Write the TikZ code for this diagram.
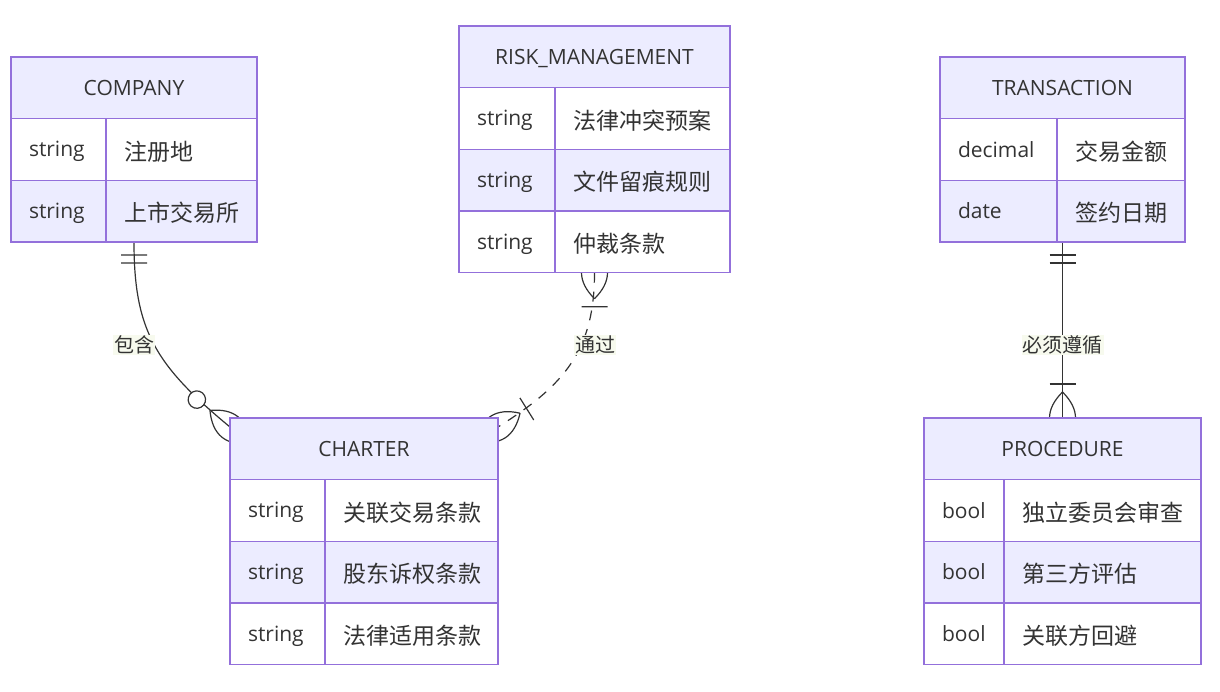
\documentclass[tikz,border=0pt]{standalone}
\usepackage{fontspec}
\setmainfont{Open Sans}
\newfontfamily\cjk{Noto Sans CJK SC}
\usetikzlibrary{calc,fit,decorations.markings}
\pgfdeclarelayer{bg}
\pgfsetlayers{bg,main}
\definecolor{bd}{HTML}{9370DB}
\definecolor{hdrc}{HTML}{ECECFF}
\definecolor{txt}{HTML}{333333}
\definecolor{lbg}{RGB}{247,250,238}
\newcommand\lt{\fontsize{21}{25}\selectfont}
\newcommand\zh{\cjk\fontsize{23}{27}\selectfont}
\newcommand\lstrut{\rule[-4.6pt]{0pt}{24.6pt}}
\newcommand\zstrut{\rule[-4.6pt]{0pt}{30.6pt}}
\tikzset{
  ehead/.style={draw=bd, line width=1.5pt, fill=hdrc, anchor=north west, inner sep=0pt, outer sep=0pt, minimum height=61.67pt, text=txt, font=\lt, execute at begin node=\lstrut},
  cell/.style={draw=bd, line width=1.5pt, anchor=north west, inner xsep=18pt, inner ysep=0pt, outer sep=0pt, minimum height=61.67pt, align=left, text=txt, font=\lt, execute at begin node=\lstrut},
  zhc/.style={execute at begin node=\zstrut},
  wrow/.style={cell, fill=white},
  lrow/.style={cell, fill=hdrc},
  efit/.style={inner sep=0pt, outer sep=0pt},
  rel/.style={draw=txt, line width=1.2pt},
  mk/.style={draw=txt, line width=1.2pt, solid},
  lbl/.style={fill=lbg, inner sep=1pt, text=txt, font=\cjk\fontsize{20}{23}\selectfont},
  oneS/.style={postaction={decorate, decoration={markings,
      mark=at position 0.01pt with {\draw[mk] (13pt,-13pt) -- (13pt,13pt) (21pt,-13pt) -- (21pt,13pt);}}}},
  manyS/.style={postaction={decorate, decoration={markings,
      mark=at position 0.01pt with {\draw[mk] (26pt,0) .. controls (8.67pt,17.33pt) and (-8.67pt,17.33pt) .. (-26pt,0) .. controls (-8.67pt,-17.33pt) and (8.67pt,-17.33pt) .. (26pt,0);
        \draw[mk] (34pt,-13pt) -- (34pt,13pt);}}}},
  manyE/.style={postaction={decorate, decoration={markings,
      mark=at position -0.01pt with {\draw[mk] (-26pt,0) .. controls (-8.67pt,17.33pt) and (8.67pt,17.33pt) .. (26pt,0) .. controls (8.67pt,-17.33pt) and (-8.67pt,-17.33pt) .. (-26pt,0);
        \draw[mk] (-34pt,-13pt) -- (-34pt,13pt);}}}},
  zmanyE/.style={postaction={decorate, decoration={markings,
      mark=at position -0.01pt with {\draw[mk] (-26pt,0) .. controls (-8.67pt,17.33pt) and (8.67pt,17.33pt) .. (26pt,0) .. controls (8.67pt,-17.33pt) and (-8.67pt,-17.33pt) .. (-26pt,0);
        \draw[mk, fill=white] (-43pt,0) circle (8.7pt);}}}},
}
\begin{document}
\begin{tikzpicture}[x=1pt,y=-1pt]
\useasboundingbox (0,0) rectangle (1220,691);
% COMPANY
\node[ehead, minimum width=246pt] (company-h) at (11,57) {COMPANY};
\node[wrow, text width=59pt] (company-1t) at (11,118.67) {string};
\node[wrow, zhc, text width=115pt] (company-1n) at (106,118.67) {\zh 注册地};
\node[lrow, text width=59pt] (company-2t) at (11,180.33) {string};
\node[lrow, zhc, text width=115pt] (company-2n) at (106,180.33) {\zh 上市交易所};
\node[efit, fit=(company-h)(company-2n)] (company) {};
% RISK_MANAGEMENT
\node[ehead, minimum width=271pt] (risk-h) at (459,26) {RISK\_MANAGEMENT};
\node[wrow, text width=60pt] (risk-1t) at (459,87.67) {string};
\node[wrow, zhc, text width=139pt] (risk-1n) at (555,87.67) {\zh 法律冲突预案};
\node[lrow, text width=60pt] (risk-2t) at (459,149.33) {string};
\node[lrow, zhc, text width=139pt] (risk-2n) at (555,149.33) {\zh 文件留痕规则};
\node[wrow, text width=60pt] (risk-3t) at (459,211) {string};
\node[wrow, zhc, text width=139pt] (risk-3n) at (555,211) {\zh 仲裁条款};
\node[efit, fit=(risk-h)(risk-3n)] (risk) {};
% TRANSACTION
\node[ehead, minimum width=245pt] (trans-h) at (940,57) {TRANSACTION};
\node[wrow, text width=81pt] (trans-1t) at (940,118.67) {decimal};
\node[wrow, zhc, text width=92pt] (trans-1n) at (1057,118.67) {\zh 交易金额};
\node[lrow, text width=81pt] (trans-2t) at (940,180.33) {date};
\node[lrow, zhc, text width=92pt] (trans-2n) at (1057,180.33) {\zh 签约日期};
\node[efit, fit=(trans-h)(trans-2n)] (transaction) {};
% CHARTER
\node[ehead, minimum width=268pt] (charter-h) at (230,418) {CHARTER};
\node[wrow, text width=59pt] (charter-1t) at (230,479.67) {string};
\node[wrow, zhc, text width=137pt] (charter-1n) at (325,479.67) {\zh 关联交易条款};
\node[lrow, text width=59pt] (charter-2t) at (230,541.33) {string};
\node[lrow, zhc, text width=137pt] (charter-2n) at (325,541.33) {\zh 股东诉权条款};
\node[wrow, text width=59pt] (charter-3t) at (230,603) {string};
\node[wrow, zhc, text width=137pt] (charter-3n) at (325,603) {\zh 法律适用条款};
\node[efit, fit=(charter-h)(charter-3n)] (charter) {};
% PROCEDURE
\node[ehead, minimum width=277pt] (proc-h) at (924,418) {PROCEDURE};
\node[wrow, text width=44pt] (proc-1t) at (924,479.67) {bool};
\node[wrow, zhc, text width=161pt] (proc-1n) at (1004,479.67) {\zh 独立委员会审查};
\node[lrow, text width=44pt] (proc-2t) at (924,541.33) {bool};
\node[lrow, zhc, text width=161pt] (proc-2n) at (1004,541.33) {\zh 第三方评估};
\node[wrow, text width=44pt] (proc-3t) at (924,603) {bool};
\node[wrow, zhc, text width=161pt] (proc-3n) at (1004,603) {\zh 关联方回避};
\node[efit, fit=(proc-h)(proc-3n)] (procedure) {};
% relations
\begin{pgfonlayer}{bg}
\coordinate (e1) at ($(charter.north west)+(0,9)$);
\coordinate (e2) at ($(charter.north east)+(0,9)$);
\draw[rel, oneS, zmanyE] (company.south) .. controls +(0,88) and +(-75,-62) .. (e1);
\draw[rel, dash pattern=on 10pt off 9pt, manyS, manyE] (risk.south) .. controls +(0,77) and +(67,-42) .. (e2);
\draw[rel, oneS, manyE] (transaction.south) -- (procedure.north);
\node[lbl] (l1) at (134,345) {包含};
\node[lbl] (l2) at (595,345) {通过};
\node[lbl] (l3) at (1062.5,345) {必须遵循};
\end{pgfonlayer}
\end{tikzpicture}
\end{document}
